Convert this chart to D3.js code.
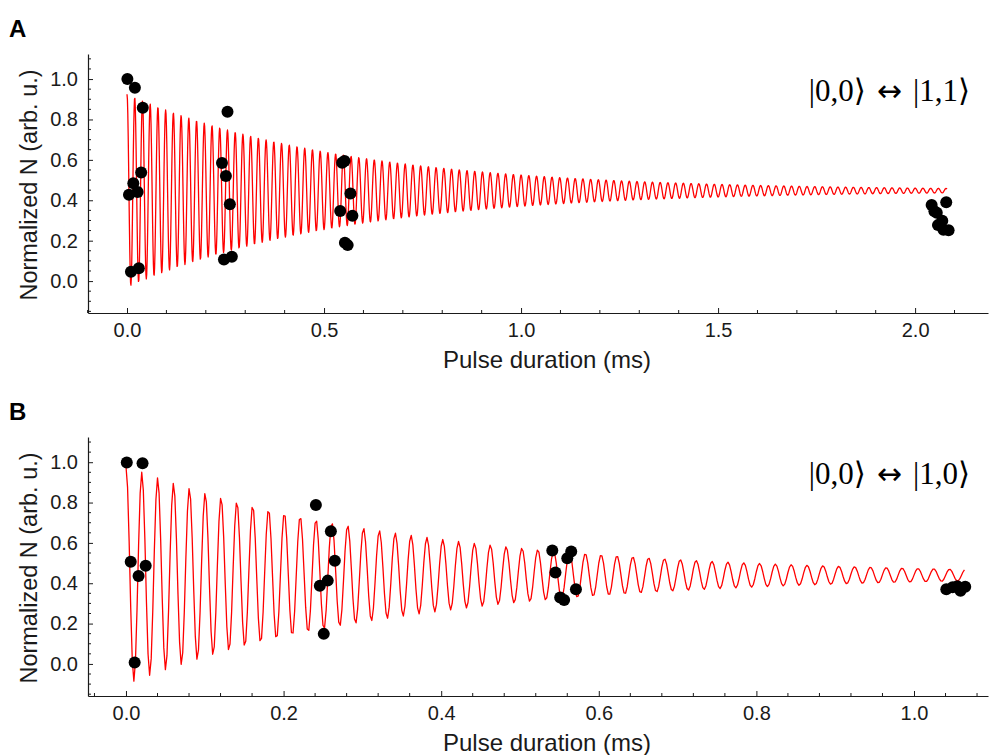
<!DOCTYPE html>
<html>
<head>
<meta charset="utf-8">
<script src="https://cdn.jsdelivr.net/npm/d3@7"></script>
<style>
  html, body { margin: 0; padding: 0; background: #fff; }
  svg { display: block; }
  text { font-family: "Liberation Sans", Arial, sans-serif; fill: #1a1a1a; }
</style>
</head>
<body>
<svg id="fig" width="989" height="755"></svg>
<script>
// ---- Panel A: |0,0> <-> |1,1> ----
const aTime   = [0.001, 0.020, 0.040, 0.036, 0.016, 0.005, 0.027, 0.010, 0.030,
                 0.255, 0.241, 0.251, 0.261, 0.246, 0.266,
                 0.546, 0.552, 0.567, 0.541, 0.572, 0.553, 0.560,
                 2.042, 2.049, 2.055, 2.058, 2.069, 2.072, 2.079, 2.085];
const aSignal = [1.000, 0.957, 0.858, 0.538, 0.484, 0.427, 0.441, 0.046, 0.063,
                 0.838, 0.584, 0.520, 0.380, 0.107, 0.120,
                 0.586, 0.594, 0.434, 0.347, 0.323, 0.190, 0.178,
                 0.376, 0.346, 0.338, 0.277, 0.299, 0.254, 0.390, 0.252];
// damped-Rabi fit: offset, amplitude, period (ms), decay time (ms), last time (ms)
const aFit = [0.4475, 0.4775, 0.01961, 0.55, 2.081];
const aXTicks = [0.0, 0.5, 1.0, 1.5, 2.0];
const aXMinor = [-0.1, 0.0, 0.1, 0.2, 0.3, 0.4, 0.5, 0.6, 0.7, 0.8, 0.9, 1.0, 1.1,
                 1.2, 1.3, 1.4, 1.5, 1.6, 1.7, 1.8, 1.9, 2.0, 2.1];
const aLabel = ["|0,0\u27E9", "\u2194", "|1,1\u27E9"];

// ---- Panel B: |0,0> <-> |1,0> ----
const bTime   = [0.001, 0.021, 0.006, 0.016, 0.025, 0.011,
                 0.241, 0.260, 0.265, 0.256, 0.246, 0.251,
                 0.541, 0.565, 0.560, 0.545, 0.571, 0.551, 0.556,
                 1.041, 1.049, 1.055, 1.059, 1.065];
const bSignal = [0.998, 0.995, 0.507, 0.436, 0.487, 0.007,
                 0.788, 0.658, 0.511, 0.413, 0.387, 0.149,
                 0.562, 0.557, 0.524, 0.453, 0.370, 0.329, 0.317,
                 0.370, 0.380, 0.385, 0.363, 0.383];
const bFit = [0.44, 0.54, 0.02010, 0.36, 1.064];
const bXTicks = [0.0, 0.2, 0.4, 0.6, 0.8, 1.0];
const bXMinor = [-0.04, 0.0, 0.04, 0.08, 0.12, 0.16, 0.2, 0.24, 0.28, 0.32, 0.36, 0.4,
                 0.44, 0.48, 0.52, 0.56, 0.6, 0.64, 0.68, 0.72, 0.76, 0.8, 0.84,
                 0.88, 0.92, 0.96, 1.0, 1.04, 1.08];
const bLabel = ["|0,0\u27E9", "\u2194", "|1,0\u27E9"];

// ---- shared y ticks ----
const yTicks = [0.0, 0.2, 0.4, 0.6, 0.8, 1.0];
const yMinor = [-0.15, -0.1, -0.05, 0.0, 0.05, 0.1, 0.15, 0.2, 0.25, 0.3, 0.35, 0.4, 0.45,
                0.5, 0.55, 0.6, 0.65, 0.7, 0.75, 0.8, 0.85, 0.9, 0.95, 1.0, 1.05, 1.1];
const xTitle = "Pulse duration (ms)";
const yTitle = "Normalized N (arb. u.)";

const svg = d3.select("#fig");

function fitCurve(p, step) {
  const [c, a, T, tau, tEnd] = p;
  const pts = [];
  for (let i = 0; i * step <= tEnd + 1e-9; i++) {
    const t = i * step;
    pts.push([t, c + a * Math.exp(-t / tau) * Math.cos(2 * Math.PI * t / T)]);
  }
  return pts;
}

function panel(cfg) {
  const g = svg.append("g");
  const x = d3.scaleLinear().domain(cfg.xDomain).range([cfg.left, cfg.right]);
  const y = d3.scaleLinear().domain(cfg.yDomain).range([cfg.bottom, cfg.top]);

  // panel letter
  g.append("text").attr("x", 9).attr("y", cfg.top - 17)
    .style("font-size", "24px").style("font-weight", "bold").style("fill", "#000")
    .text(cfg.letter);

  // clip for curve
  const clipId = "clip" + cfg.letter;
  svg.append("clipPath").attr("id", clipId).append("rect")
    .attr("x", cfg.left).attr("y", cfg.top)
    .attr("width", cfg.right - cfg.left).attr("height", cfg.bottom - cfg.top);

  // fit curve
  const line = d3.line().x(d => x(d[0])).y(d => y(d[1]));
  g.append("path").datum(fitCurve(cfg.fit, cfg.step))
    .attr("clip-path", `url(#${clipId})`)
    .attr("fill", "none").attr("stroke", "#ff0000").attr("stroke-width", 1.3)
    .attr("stroke-linejoin", "round")
    .attr("d", line);

  // data points
  g.selectAll("circle.pt").data(cfg.t.map((t, i) => [t, cfg.v[i]]))
    .enter().append("circle").attr("class", "pt")
    .attr("cx", d => x(d[0])).attr("cy", d => y(d[1])).attr("r", 6)
    .attr("fill", "#000");

  // bottom axis
  const xAx = d3.axisBottom(x).tickValues(cfg.xTicks).tickSize(-5).tickSizeOuter(0)
    .tickPadding(10).tickFormat(d3.format(".1f"));
  const gx = g.append("g").attr("transform", `translate(0,${cfg.bottom})`).call(xAx);
  gx.selectAll("text").style("font-size", "20px").style("fill", "#1a1a1a");
  gx.append("g").selectAll("line").data(cfg.xMinor.filter(v => !cfg.xTicks.some(m => Math.abs(m - v) < 1e-9)))
    .enter().append("line")
    .attr("x1", d => x(d)).attr("x2", d => x(d)).attr("y1", 0).attr("y2", -3)
    .attr("stroke", "#1a1a1a");

  // left axis
  const yAx = d3.axisLeft(y).tickValues(yTicks).tickSize(-5).tickSizeOuter(0)
    .tickPadding(10).tickFormat(d3.format(".1f"));
  const gy = g.append("g").attr("transform", `translate(${cfg.left},0)`).call(yAx);
  gy.selectAll("text").style("font-size", "20px").style("fill", "#1a1a1a");
  gy.append("g").selectAll("line").data(yMinor.filter(v => !yTicks.some(m => Math.abs(m - v) < 1e-9)))
    .enter().append("line")
    .attr("y1", d => y(d)).attr("y2", d => y(d)).attr("x1", 0).attr("x2", 3)
    .attr("stroke", "#1a1a1a");

  [gx, gy].forEach(a => {
    a.select(".domain").attr("stroke", "#1a1a1a").attr("stroke-width", 1.2);
    a.selectAll(".tick line").attr("stroke", "#1a1a1a");
  });

  // axis titles
  g.append("text").attr("x", 547).attr("y", cfg.bottom + 55)
    .attr("text-anchor", "middle").style("font-size", "24px").text(xTitle);
  g.append("text")
    .attr("transform", `translate(37,${(cfg.top + cfg.bottom) / 2 + 1.5}) rotate(-90)`)
    .attr("text-anchor", "middle").style("font-size", "23.5px").text(yTitle);

  // transition label
  const lab = g.append("text").attr("x", 970).attr("y", cfg.top + 47)
    .attr("text-anchor", "end")
    .style("font-family", "'Liberation Serif', 'DejaVu Serif', serif")
    .style("font-size", "31px").style("fill", "#000");
  lab.append("tspan").text(cfg.label[0]);
  lab.append("tspan").attr("dx", 11)
    .style("font-family", "'DejaVu Sans', sans-serif").style("font-size", "30px")
    .text(cfg.label[1]);
  lab.append("tspan").attr("dx", 11).text(cfg.label[2]);
}

panel({
  letter: "A", t: aTime, v: aSignal, fit: aFit, step: 0.001,
  xDomain: [-0.099, 2.185], yDomain: [-0.158, 1.124],
  left: 88, right: 988, top: 54, bottom: 313,
  xTicks: aXTicks, xMinor: aXMinor, label: aLabel
});

panel({
  letter: "B", t: bTime, v: bSignal, fit: bFit, step: 0.002,
  xDomain: [-0.0482, 1.0939], yDomain: [-0.159, 1.125],
  left: 88, right: 988, top: 437, bottom: 696,
  xTicks: bXTicks, xMinor: bXMinor, label: bLabel
});
</script>
</body>
</html>
